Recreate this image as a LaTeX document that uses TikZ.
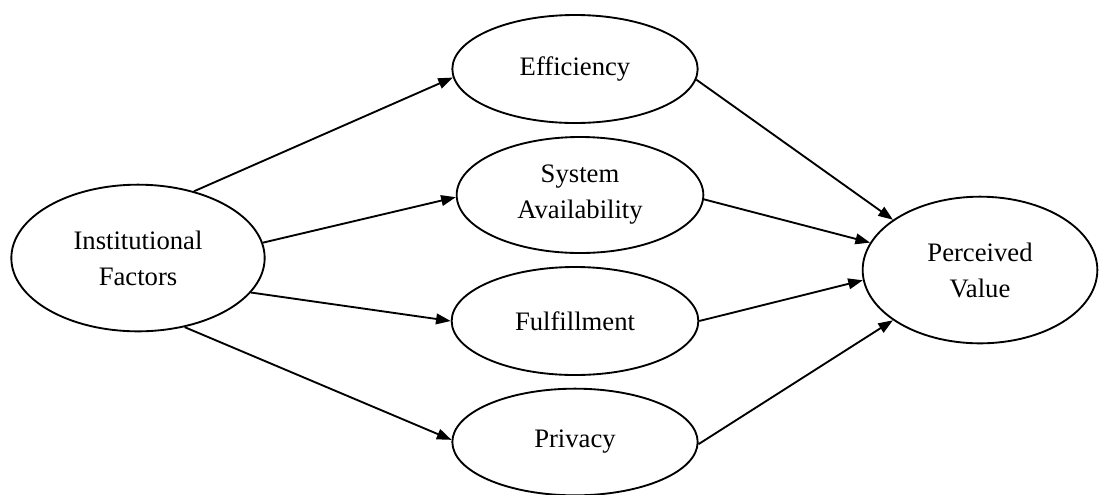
\documentclass[tikz,border=0pt]{standalone}
\usepackage{fontspec}
\setmainfont{Liberation Serif}
\usepackage{tikz}
\usetikzlibrary{shapes.geometric, arrows.meta}
\tikzstyle{oval} = [ellipse, draw=black, line width=1.4pt, inner sep=0pt, align=center, font=\fontsize{20}{27}\selectfont]
\tikzstyle{arrow} = [line width=1.4pt, -{Triangle[length=11pt, width=8pt]}]

\begin{document}
\begin{tikzpicture}[x=0.75pt, y=-0.75pt]
        \useasboundingbox (0,0) rectangle (1099,494);
        \node (inst) [oval, minimum width=190pt, minimum height=110pt] at (138,258) {Institutional\\Factors};
        \node (eff) [oval, minimum width=184pt, minimum height=81pt] at (575,69) {Efficiency};
        \node (avail) [oval, minimum width=185pt, minimum height=87pt] at (580,195) {System\\Availability};
        \node (fulfil) [oval, minimum width=185pt, minimum height=81pt] at (575,321) {Fulfillment};
        \node (priv) [oval, minimum width=184pt, minimum height=80pt] at (575,442) {Privacy};
        \node (value) [oval, minimum width=176pt, minimum height=110pt] at (980,270) {Perceived\\Value};
        \draw [arrow] (inst.50) -- (eff.184);
        \draw [arrow] (inst.7) -- (avail.181);
        \draw [arrow] (inst.-17) -- (fulfil.180);
        \draw [arrow] (inst.-56) -- (priv.179);
        \draw [arrow] (eff.-5) -- (value.150);
        \draw [arrow] (avail.-2) -- (value.166);
        \draw [arrow] (fulfil.0) -- (value.185);
        \draw [arrow] (priv.-1) -- (value.210);
    \end{tikzpicture}
\end{document}
